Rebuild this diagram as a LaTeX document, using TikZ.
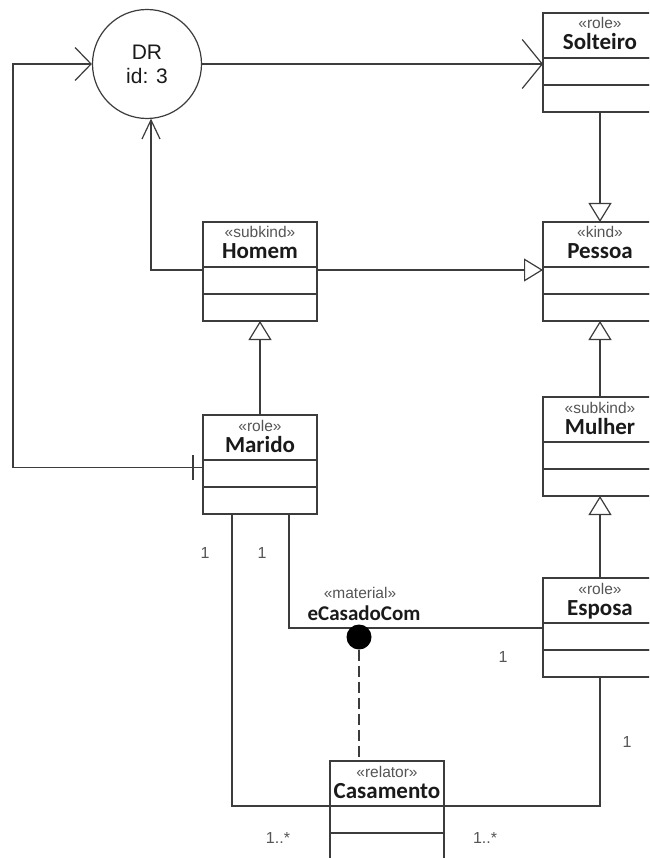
\documentclass[tikz,border=0pt]{standalone}
\usepackage{fontspec}
\setmainfont{Liberation Sans}
\newfontfamily\classfont{Carlito}
\usetikzlibrary{arrows.meta}

\definecolor{ink}{HTML}{3C3C3C}
\definecolor{stereoink}{HTML}{555555}
\definecolor{nameink}{HTML}{1A1A1A}

\tikzset{
  hdr/.style={draw=ink, line width=1.2pt, fill=white, rectangle, outer sep=0pt, inner sep=0pt,
              minimum width=114pt, minimum height=45pt},
  cmp/.style={draw=ink, line width=1.2pt, fill=white, rectangle, outer sep=0pt, inner sep=0pt,
              minimum width=114pt, minimum height=27pt},
  stereo/.style={text=stereoink, inner sep=0pt, font=\fontsize{15.5}{17}\selectfont},
  title/.style={text=nameink, inner sep=0pt, font=\classfont\bfseries\fontsize{23}{25}\selectfont},
  mult/.style={text=stereoink, inner sep=0pt, font=\fontsize{16}{18}\selectfont},
  conn/.style={draw=ink, line width=1.2pt},
  gen/.style={conn, -{Triangle[length=19pt, width=23pt, fill=white]}},
  nav/.style={conn, -{Straight Barb[length=16pt, width=33pt]}},
  navnarrow/.style={conn, -{Straight Barb[length=19pt, width=18pt]}},
  navwide/.style={conn, -{Straight Barb[length=20pt, width=49pt]}},
}

% UML class: header with stereotype and name, then two empty compartments
\newcommand\umlclass[5]{%
  \node[hdr, anchor=north west] (#1) at (#2,#3) {};
  \node[cmp, anchor=north] (#1-a) at (#1.south) {};
  \node[cmp, anchor=north] (#1-b) at (#1-a.south) {};
  \node[stereo, anchor=base] (#1-st) at ([yshift=-16pt]#1.north) {«#4»};
  \node[title, anchor=base] (#1-nm) at ([yshift=-37pt]#1.north) {#5};
}

\begin{document}
\begin{tikzpicture}[x=1pt, y=-1pt]
  \useasboundingbox (0,0) rectangle (649,858);
  \fill[white] (0,0) rectangle (649,858);
  \clip (0,0) rectangle (649,858);

  % derivation node
  \node[circle, draw=ink, line width=1.2pt, fill=white, minimum size=109pt, inner sep=0pt,
        align=center, font=\fontsize{21}{24}\selectfont, text=nameink] (dr) at (147,64) {DR\\id: 3};

  % classes
  \umlclass{solteiro}{543}{13}{role}{Solteiro}
  \umlclass{homem}{203}{222}{subkind}{Homem}
  \umlclass{pessoa}{543}{222}{kind}{Pessoa}
  \umlclass{mulher}{543}{397}{subkind}{Mulher}
  \umlclass{marido}{203}{415}{role}{Marido}
  \umlclass{esposa}{543}{578}{role}{Esposa}
  \umlclass{casamento}{330}{761}{relator}{Casamento}

  % left rail from Marido up to DR
  \coordinate (rail) at (13,0);
  \coordinate (maridoport) at ([yshift=6pt]marido-a.west);
  \draw[nav] (maridoport) -- (rail |- maridoport) -- (rail |- dr.west) -- (dr.west);
  \draw[conn] ([xshift=-10pt, yshift=18.5pt]marido-a.west) -- ([xshift=-10pt, yshift=-6.5pt]marido-a.west);

  % DR to Solteiro
  \draw[navwide] (dr.east) -- (dr.east -| solteiro.west);

  % Homem to DR
  \draw[navnarrow] ([yshift=-3pt]homem.south west) -| ([xshift=4pt, yshift=0.5pt]dr.south);

  % generalizations
  \coordinate (homemport) at ([yshift=-3pt]homem.south east);
  \draw[gen] (solteiro-b.south) -- (pessoa.north);
  \draw[gen] (homemport) -- (homemport -| pessoa.west);
  \draw[gen] (marido.north) -- (homem-b.south);
  \draw[gen] (mulher.north) -- (pessoa-b.south);
  \draw[gen] (esposa.north) -- (mulher-b.south);

  % material relation eCasadoCom
  \draw[conn] ([xshift=29pt]marido-b.south) |- ([yshift=-5pt]esposa.south west);
  \node[stereo, anchor=base] (matst) at (360,598) {«material»};
  \node[title, font=\classfont\bfseries\fontsize{21}{23}\selectfont, anchor=base] (matnm) at (364,620) {eCasadoCom};
  \node[circle, fill=black, minimum size=25pt, inner sep=0pt] (rel) at (359,637) {};
  \draw[conn, dash pattern=on 11pt off 5pt] (rel.south) -- (rel.south |- casamento.north);

  % mediations to Casamento
  \draw[conn] ([xshift=-28pt]marido-b.south) |- (casamento.south west);
  \draw[conn] (esposa-b.south) |- (casamento.south east);

  % multiplicities
  \node[mult] (m1) at (205,553) {1};
  \node[mult] (m2) at (262,553) {1};
  \node[mult] (m3) at (503,657) {1};
  \node[mult] (m4) at (627,742) {1};
  \node[mult] (m5) at (278,838) {1..*};
  \node[mult] (m6) at (485,838) {1..*};
\end{tikzpicture}
\end{document}
